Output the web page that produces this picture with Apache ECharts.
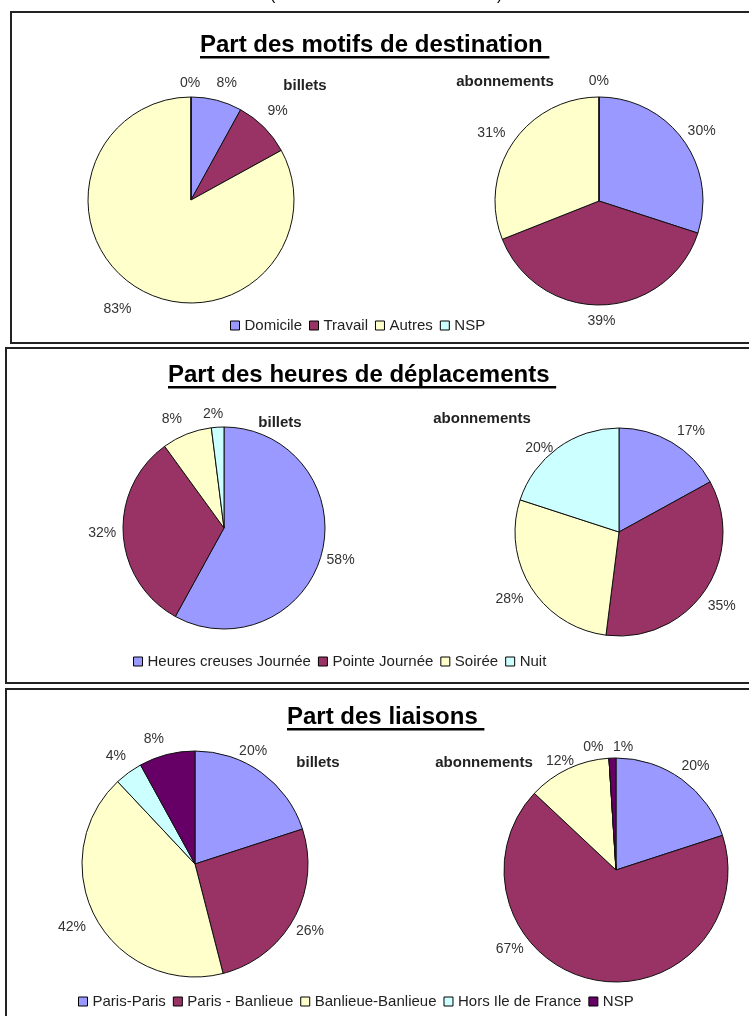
<!DOCTYPE html>
<html>
<head>
<meta charset="utf-8">
<script src="https://cdn.jsdelivr.net/npm/echarts@6/dist/echarts.min.js"></script>
<style>
html, body { margin: 0; padding: 0; background: #fff; }
#box { width: 749px; height: 1016px; }
</style>
</head>
<body>
<div id="box"></div>
<script>
// valeurs (en %)
var motifs = ["Domicile", "Travail", "Autres", "NSP"];
var motifsBillets = [8, 9, 83, 0];
var motifsAbonnements = [30, 39, 31, 0];

var heures = ["Heures creuses Journée", "Pointe Journée", "Soirée", "Nuit"];
var heuresBillets = [58, 32, 8, 2];
var heuresAbonnements = [17, 35, 28, 20];

var liaisons = ["Paris-Paris", "Paris - Banlieue", "Banlieue-Banlieue", "Hors Ile de France", "NSP"];
var liaisonsBillets = [20, 26, 42, 4, 8];
var liaisonsAbonnements = [20, 67, 12, 0, 1];

var titres = ["Part des motifs de destination", "Part des heures de déplacements", "Part des liaisons"];
var sousTitres = ["billets", "abonnements"];
var couleurs = ["#9999ff", "#993366", "#ffffcc", "#ccffff", "#660066"];

var police = "'Liberation Sans', Arial, sans-serif";

// mise en page des trois cadres
var cadres = [
  { x: 11, y: 12, h: 331, titreX: 200, titreY: 45, legendeX: 230, legendeY: 318,
    noms: motifs, valeurs: [motifsBillets, motifsAbonnements],
    camemberts: [{ c: [191, 200], r: 103, sous: [305, 86] }, { c: [599, 201], r: 104, sous: [505, 82] }] },
  { x: 6, y: 348, h: 335, titreX: 168, titreY: 375, legendeX: 133, legendeY: 654,
    noms: heures, valeurs: [heuresBillets, heuresAbonnements],
    camemberts: [{ c: [224, 528], r: 101, sous: [280, 423] }, { c: [619, 532], r: 104, sous: [482, 419] }] },
  { x: 6, y: 689, h: 360, titreX: 287, titreY: 717, legendeX: 78, legendeY: 994,
    noms: liaisons, valeurs: [liaisonsBillets, liaisonsAbonnements],
    camemberts: [{ c: [195, 864], r: 113, sous: [318, 763] }, { c: [616, 870], r: 112, sous: [484, 763] }] }
];

// petits déplacements des étiquettes (placement "au mieux" d'Excel)
var decalages = [
  [[-7, -9], [-7, -10], [2, 14], [-16, -6]],
  [[-7, -4], [-20, 8], [4, -5], [15, -8]],
  [[-8, 5], [6, -2], [3, -8], [11, -5]],
  [[-4, -4], [-9, 11], [4, 7], [5, 7]],
  [[-32, -15], [-10, 9], [2, 5], [7, -10], [4, -8]],
  [[-10, -7], [-61, -38], [14, 0], [0, -3], [26, -3]]
];

var ctx = document.createElement("canvas").getContext("2d");
ctx.font = "bold 24px " + police;

var graphic = [];
var legend = [];
var series = [];

// bouts de la ligne coupée en haut
graphic.push({ type: "text", left: 270, top: -12, style: { text: "(", font: "16px " + police, fill: "#000" } });
graphic.push({ type: "text", left: 497, top: -12, style: { text: ")", font: "16px " + police, fill: "#000" } });

cadres.forEach(function (p, k) {
  graphic.push({
    type: "rect", shape: { x: p.x, y: p.y, width: 780, height: p.h },
    style: { fill: "none", stroke: "#222", lineWidth: 2 }
  });
  graphic.push({
    type: "text", x: p.titreX, y: p.titreY,
    style: { text: titres[k], font: "bold 24px " + police, fill: "#000", verticalAlign: "middle", align: "left" }
  });
  var w = ctx.measureText(titres[k] + " ").width;
  graphic.push({
    type: "rect", shape: { x: p.titreX, y: p.titreY + 11, width: w, height: 2.5 },
    style: { fill: "#000" }
  });

  legend.push({
    left: p.legendeX, top: p.legendeY, padding: 0, itemGap: 7,
    itemWidth: 9, itemHeight: 9, icon: "rect",
    itemStyle: { borderColor: "#000", borderWidth: 1 },
    textStyle: { fontSize: 15, color: "#222", fontFamily: police },
    selectedMode: false,
    data: p.noms.map(function (n, i) { return { name: n, itemStyle: { color: couleurs[i] } }; })
  });

  p.camemberts.forEach(function (cm, j) {
    graphic.push({
      type: "text", x: cm.sous[0], y: cm.sous[1],
      style: { text: sousTitres[j], font: "bold 15px " + police, fill: "#222", align: "center", verticalAlign: "middle" }
    });
    series.push({
      type: "pie",
      center: cm.c,
      radius: cm.r,
      startAngle: 90,
      clockwise: true,
      avoidLabelOverlap: false,
      silent: true,
      emphasis: { disabled: true },
      itemStyle: { borderColor: "#111", borderWidth: 1 },
      label: { show: true, position: "outside", formatter: "{c}%", fontSize: 14, color: "#333", fontFamily: police },
      labelLine: { show: false, length: 8, length2: 0 },
      labelLayout: function (params) {
        var d = decalages[params.seriesIndex][params.dataIndex];
        return { dx: d[0], dy: d[1] };
      },
      data: p.noms.map(function (n, i) {
        return { name: n, value: p.valeurs[j][i], itemStyle: { color: couleurs[i] } };
      })
    });
  });
});

var myChart = echarts.init(document.getElementById("box"));
myChart.setOption({
  animation: false,
  backgroundColor: "#fff",
  graphic: graphic,
  legend: legend,
  series: series
});
</script>
</body>
</html>
